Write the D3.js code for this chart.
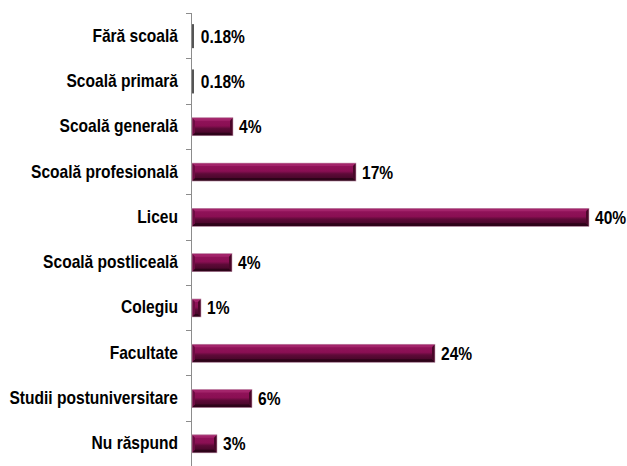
<!DOCTYPE html>
<html>
<head>
<meta charset="utf-8">
<script src="https://cdn.jsdelivr.net/npm/d3@7"></script>
<style>
html,body{margin:0;padding:0;background:#fff;}
svg{display:block;}
</style>
</head>
<body>
<svg id="chart" width="627" height="466"></svg>
<script>
const categories = ["Fără scoală","Scoală primară","Scoală generală","Scoală profesională","Liceu","Scoală postliceală","Colegiu","Facultate","Studii postuniversitare","Nu răspund"];
const values = [0.18, 0.18, 4.2, 16.5, 39.8, 4.1, 1.0, 24.4, 6.1, 2.6];
const labels = ["0.18%","0.18%","4%","17%","40%","4%","1%","24%","6%","3%"];

const svg = d3.select("#chart");
const axisX = 191;
const x = d3.scaleLinear().domain([0, 40]).range([axisX, axisX + 400]);
const y = d3.scaleBand().domain(categories).range([13, 466]);

const defs = svg.append("defs");
const g = defs.append("linearGradient").attr("id","face").attr("x1",0).attr("y1",0).attr("x2",0).attr("y2",1);
g.append("stop").attr("offset","0%").attr("stop-color","#93145c");
g.append("stop").attr("offset","45%").attr("stop-color","#8a0f53");
g.append("stop").attr("offset","60%").attr("stop-color","#5e0a38");
g.append("stop").attr("offset","100%").attr("stop-color","#3c0522");

const font = "'Liberation Sans', Arial, sans-serif";
const fs = "18px";
const sx = 0.865;

// axis line & ticks (band boundaries)
svg.append("line").attr("x1",axisX+0.5).attr("x2",axisX+0.5).attr("y1",13).attr("y2",466)
  .attr("stroke","#8c8c8c").attr("stroke-width",1);
const bandH = y.step();
const bounds = d3.range(categories.length + 1).map(i => y.range()[0] + i * bandH);
svg.selectAll("line.tick").data(bounds).join("line").attr("class","tick")
  .attr("x1",axisX-5).attr("x2",axisX).attr("y1",d=>Math.round(d)+0.5).attr("y2",d=>Math.round(d)+0.5)
  .attr("stroke","#8c8c8c").attr("stroke-width",1);

const cy = d => y(d) + bandH/2;

// category labels
svg.selectAll("text.cat").data(categories).join("text").attr("class","cat")
  .attr("transform",d=>`translate(178,${cy(d) + 6}) scale(${sx},1)`)
  .attr("text-anchor","end").attr("font-family",font).attr("font-weight","bold")
  .attr("font-size",fs).attr("fill","#000").text(d=>d);

// bars
const bh = 18;
svg.selectAll("g.bar").data(categories).join("g").attr("class","bar").each(function(d,i){
  const gg = d3.select(this);
  const c = cy(d) + 0.5;
  const x0 = x(0) + 1, x1 = x(values[i]);
  const w = x1 - x0;
  const y0 = c - bh/2, y1 = c + bh/2;
  if (w < 3) {
    gg.append("rect").attr("x",x0).attr("y",y0-3).attr("width",2).attr("height",bh+6).attr("fill","#555");
    return;
  }
  const b = 3;
  gg.append("rect").attr("x",x0).attr("y",y0).attr("width",w).attr("height",bh).attr("fill","url(#face)");
  gg.append("polygon").attr("points",[[x0,y0],[x1,y0],[x1-b,y0+b],[x0+b,y0+b]].join(" ")).attr("fill","#a3246b");
  gg.append("polygon").attr("points",[[x0,y1],[x1,y1],[x1-b,y1-b],[x0+b,y1-b]].join(" ")).attr("fill","#2e0319");
  gg.append("polygon").attr("points",[[x0,y0],[x0+b,y0+b],[x0+b,y1-b],[x0,y1]].join(" ")).attr("fill","#6e0c43");
  gg.append("polygon").attr("points",[[x1,y0],[x1-b,y0+b],[x1-b,y1-b],[x1,y1]].join(" ")).attr("fill","#4a0729");
  gg.append("rect").attr("x",x0).attr("y",y0).attr("width",w).attr("height",bh).attr("fill","none").attr("stroke","#c9a0b6").attr("stroke-width",0.6);
});

// value labels
svg.selectAll("text.val").data(values).join("text").attr("class","val")
  .attr("transform",(d,i)=>`translate(${x(d) + (d < 1 ? 8 : 6)},${cy(categories[i]) + 7}) scale(${sx},1)`)
  .attr("font-family",font).attr("font-weight","bold").attr("font-size",fs).attr("fill","#000")
  .text((d,i)=>labels[i]);
</script>
</body>
</html>
